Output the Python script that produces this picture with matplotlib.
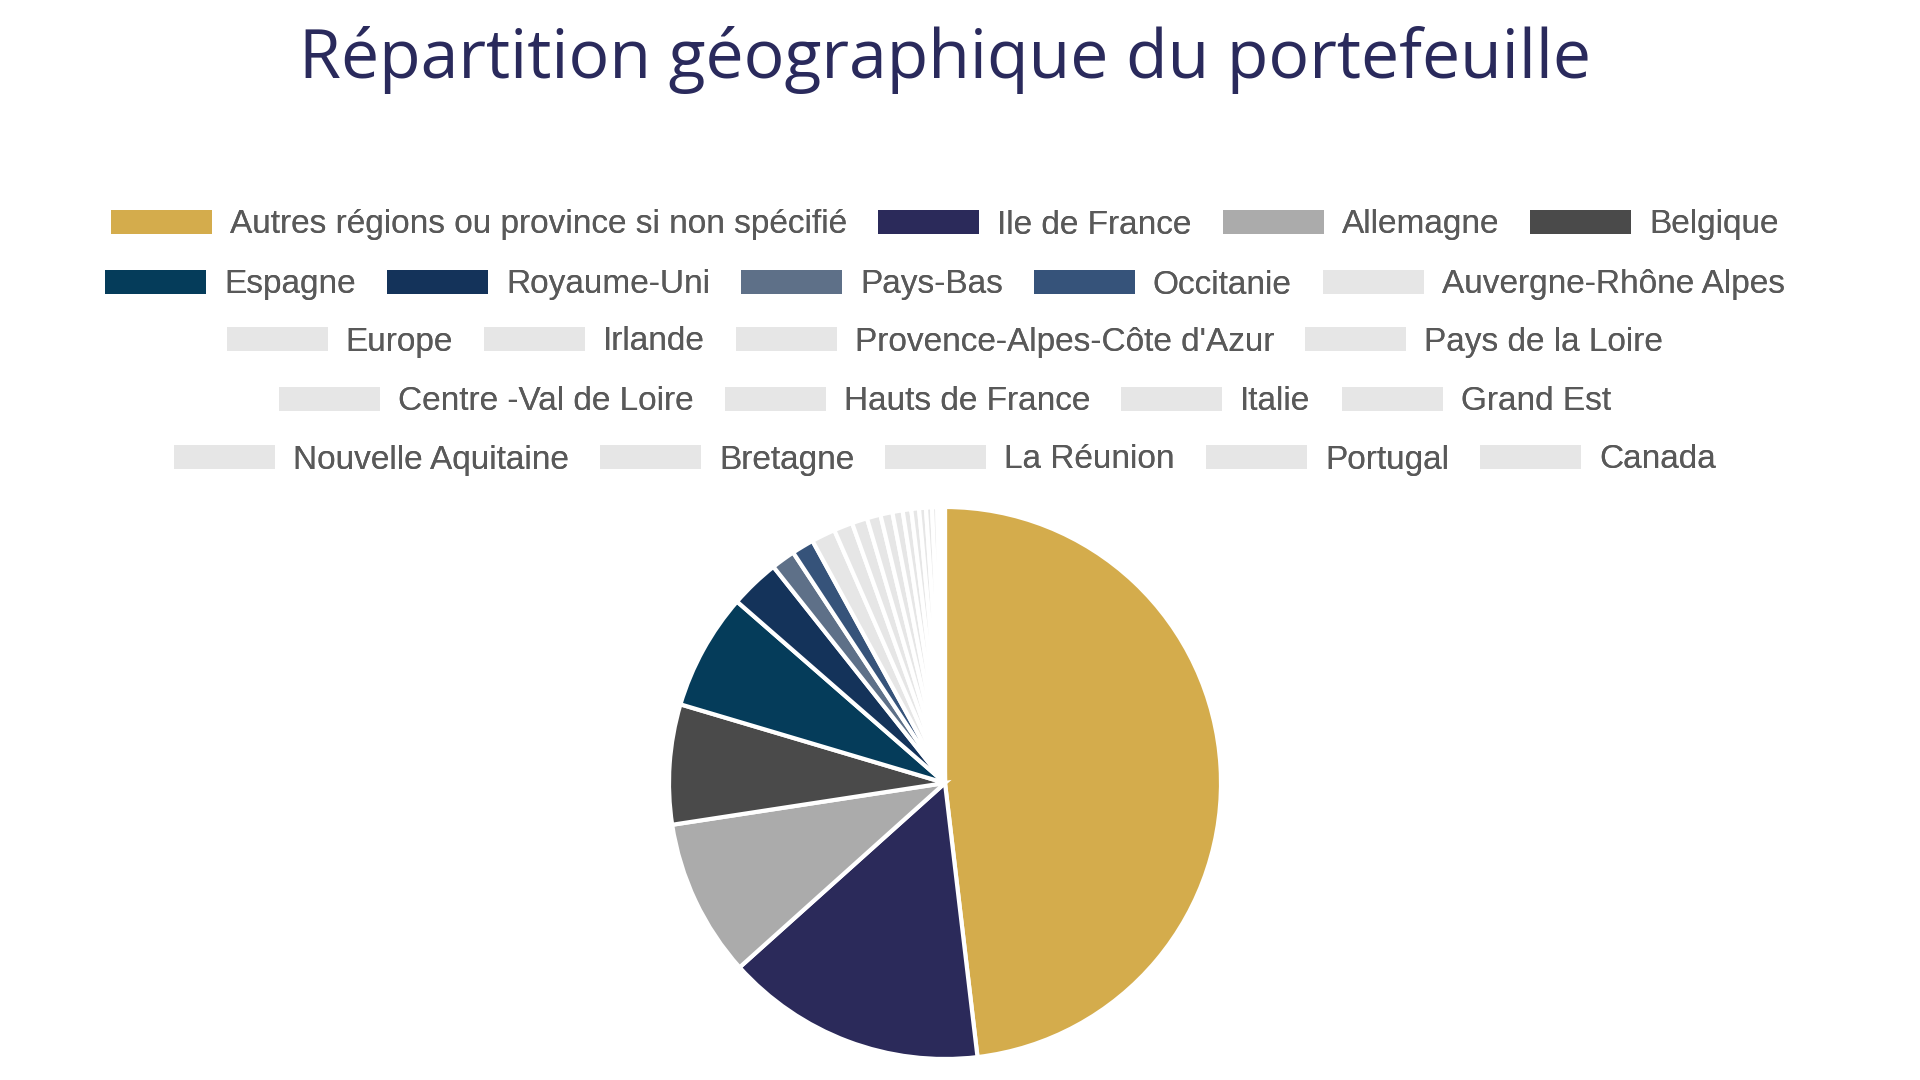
import matplotlib
matplotlib.use("Agg")
import matplotlib.pyplot as plt

categories = ["Autres régions ou province si non spécifié", "Ile de France", "Allemagne", "Belgique",
              "Espagne", "Royaume-Uni", "Pays-Bas", "Occitanie", "Auvergne-Rhône Alpes",
              "Europe", "Irlande", "Provence-Alpes-Côte d'Azur", "Pays de la Loire",
              "Centre -Val de Loire", "Hauts de France", "Italie", "Grand Est",
              "Nouvelle Aquitaine", "Bretagne", "La Réunion", "Portugal", "Canada"]
values = [48.0, 15.2, 9.2, 7.0, 6.8, 2.9, 1.4, 1.3, 1.4,
          1.1, 0.9, 0.8, 0.7, 0.6, 0.5, 0.45, 0.4, 0.35, 0.3, 0.2, 0.15, 0.1]
colors = ["#D4AC4C", "#2B2A5A", "#ABABAB", "#4A4A4A", "#053C5A", "#14335A", "#5E7088", "#36537A"] + ["#E6E6E6"] * 14
legend_rows = [4, 5, 4, 4, 5]

W, H = 1920, 1080
fig = plt.figure(figsize=(W / 100, H / 100), dpi=100)
fig.patch.set_facecolor("white")

cx, cy, r = 945, 783, 276
ax = fig.add_axes([(cx - r) / W, (H - cy - r) / H, 2 * r / W, 2 * r / H])
wedges, _ = ax.pie(values, colors=colors, startangle=90, counterclock=False,
                   wedgeprops=dict(edgecolor="white", linewidth=3))
ax.set_xlim(-1, 1)
ax.set_ylim(-1, 1)
ax.set_aspect("equal")
ax.axis("off")

fig.text(945 / W, 1 - 60 / H, "Répartition géographique du portefeuille", ha="center", va="center",
         fontsize=49, color="#2A2A5C", family="Open Sans")

row_y = [225, 285, 342, 402, 460]
fs = 24
i = 0
for n, y in zip(legend_rows, row_y):
    leg = fig.legend(wedges[i:i + n], categories[i:i + n], loc="center",
                     bbox_to_anchor=(945 / W, 1 - y / H), ncol=n, frameon=False,
                     prop=dict(family="Liberation Sans", size=fs),
                     handlelength=3.03, handleheight=0.75, handletextpad=0.54,
                     columnspacing=0.93, labelcolor="#595959", borderpad=0, borderaxespad=0)
    for h in leg.legend_handles:
        h.set_edgecolor("none")
        h.set_linewidth(0)
    # align all entries of the row on a common text baseline
    try:
        box = leg._legend_handle_box
        box._children = [col.get_children()[0] for col in box.get_children()]
    except Exception:
        pass
    fig.add_artist(leg)
    i += n

fig.savefig("out.png", dpi=100)
